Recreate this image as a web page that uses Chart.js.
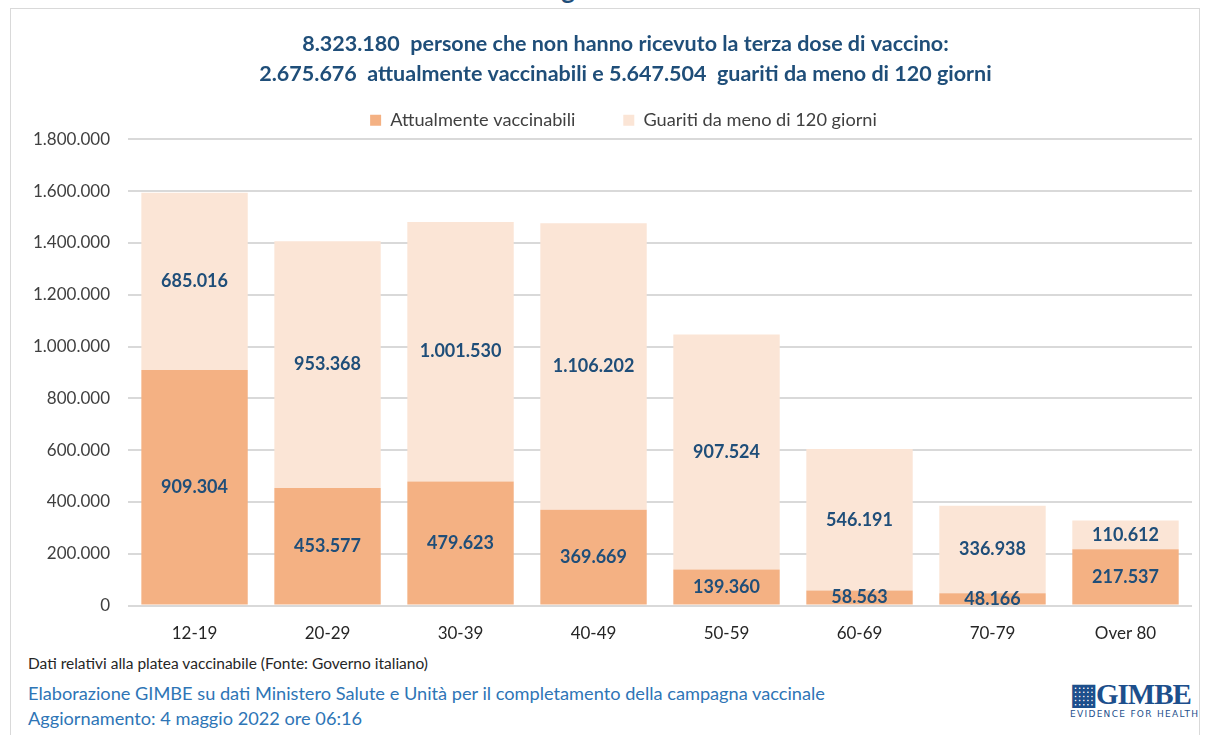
<!DOCTYPE html>
<html>
<head>
<meta charset="utf-8">
<script src="https://cdn.jsdelivr.net/npm/chart.js@4"></script>
<style>
  body { margin:0; background:#fff; font-family: Lato, "Open Sans", sans-serif; }
  #page { position:relative; width:1208px; height:735px; overflow:hidden; }
  #frame { position:absolute; left:10px; top:8px; width:1190px; height:740px; border:1px solid #d9d9d9; box-sizing:border-box; }
  #cut { position:absolute; left:0; top:0; width:1208px; height:6px; overflow:hidden; }
  #cut span { position:absolute; left:540px; top:-27px; font:bold 26px Lato; color:#1f4e79; }
  #wrap { position:absolute; left:12px; top:10px; width:1186px; height:644px; }
  .note { position:absolute; left:28px; font-size:15.5px; color:#262626; }
  .blue { position:absolute; left:28px; font-size:18.2px; color:#2e75b6; }
  #logo { position:absolute; left:1070px; top:680px; color:#1d4f8c; }
  #logo .big { font:bold 29px "Liberation Serif", serif; letter-spacing:-1px; line-height:29px; }
  #logo .small { font:9px "DejaVu Sans"; letter-spacing:1.3px; }
</style>
</head>
<body>
<div id="page">
  <div id="cut"><span>Figura 5</span></div>
  <div id="frame"></div>
  <div id="wrap"><canvas id="chart"></canvas></div>
  <div class="note" style="top:654px">Dati relativi alla platea vaccinabile (Fonte: Governo italiano)</div>
  <div class="blue" style="top:682px">Elaborazione GIMBE su dati Ministero Salute e Unità per il completamento della campagna vaccinale</div>
  <div class="blue" style="top:707px">Aggiornamento: 4 maggio 2022 ore 06:16</div>
  <div id="logo"><div class="big">&#9638;GIMBE</div><div class="small">EVIDENCE FOR HEALTH</div></div>
</div>
<script>
const categories = ["12-19", "20-29", "30-39", "40-49", "50-59", "60-69", "70-79", "Over 80"];
const vaccinabili = [909304, 453577, 479623, 369669, 139360, 58563, 48166, 217537];
const guariti = [685016, 953368, 1001530, 1106202, 907524, 546191, 336938, 110612];
const titleLines = [
  "8.323.180  persone che non hanno ricevuto la terza dose di vaccino:",
  "2.675.676  attualmente vaccinabili e 5.647.504  guariti da meno di 120 giorni"
];

function fmt(v) {
  return String(v).replace(/\B(?=(\d{3})+(?!\d))/g, ".");
}

// labels in the middle of every segment
const segmentLabels = {
  id: "segmentLabels",
  afterDatasetsDraw(chart) {
    const ctx = chart.ctx;
    ctx.save();
    ctx.font = "bold 18px Lato";
    ctx.fillStyle = "#1f4e79";
    ctx.textAlign = "center";
    ctx.textBaseline = "middle";
    chart.data.datasets.forEach((ds, i) => {
      chart.getDatasetMeta(i).data.forEach((bar, j) => {
        const mid = (bar.y + bar.base) / 2;
        ctx.fillText(fmt(ds.data[j]), bar.x, mid);
      });
    });
    ctx.restore();
  }
};

// title and legend are centred on the whole figure in the original, not on the plot
const shiftHeader = {
  id: "shiftHeader",
  afterLayout(chart) {
    if (chart.titleBlock) { chart.titleBlock.left += 22; chart.titleBlock.right += 22; }
    if (chart.legend) { chart.legend.left += 20; chart.legend.right += 20; }
  }
};

new Chart(document.getElementById("chart"), {
  type: "bar",
  data: {
    labels: categories,
    datasets: [
      { label: "Attualmente vaccinabili", data: vaccinabili, backgroundColor: "#f4b183" },
      { label: "Guariti da meno di 120 giorni", data: guariti, backgroundColor: "#fbe5d6" }
    ]
  },
  options: {
    responsive: true,
    maintainAspectRatio: false,
    animation: false,
    layout: { padding: { left: 3, right: 6, top: 19, bottom: 0 } },
    datasets: { bar: { categoryPercentage: 1, barPercentage: 0.8 } },
    plugins: {
      title: {
        display: true,
        text: titleLines,
        color: "#1f4e79",
        font: { family: "Lato", size: 21.5, weight: "bold", lineHeight: 1.4 },
        padding: { top: 0, bottom: 16 }
      },
      legend: {
        labels: {
          boxWidth: 11, boxHeight: 11, padding: 6,
          color: "#404040",
          font: { family: "Lato", size: 18.2 },
          generateLabels(chart) {
            const items = Chart.defaults.plugins.legend.labels.generateLabels(chart);
            items[0].text += "         ";
            return items;
          }
        }
      },
      tooltip: { enabled: false }
    },
    scales: {
      x: {
        stacked: true,
        grid: { display: false },
        border: { display: false },
        ticks: { color: "#262626", font: { family: "Lato", size: 17 }, padding: 10 }
      },
      y: {
        stacked: true,
        min: 0, max: 1800000,
        ticks: {
          stepSize: 200000,
          color: "#404040",
          font: { family: "Lato", size: 17 },
          padding: 18,
          callback: v => fmt(v)
        },
        grid: { color: "#d9d9d9", lineWidth: 2, drawTicks: false },
        border: { display: false }
      }
    }
  },
  plugins: [segmentLabels, shiftHeader]
});
</script>
</body>
</html>
